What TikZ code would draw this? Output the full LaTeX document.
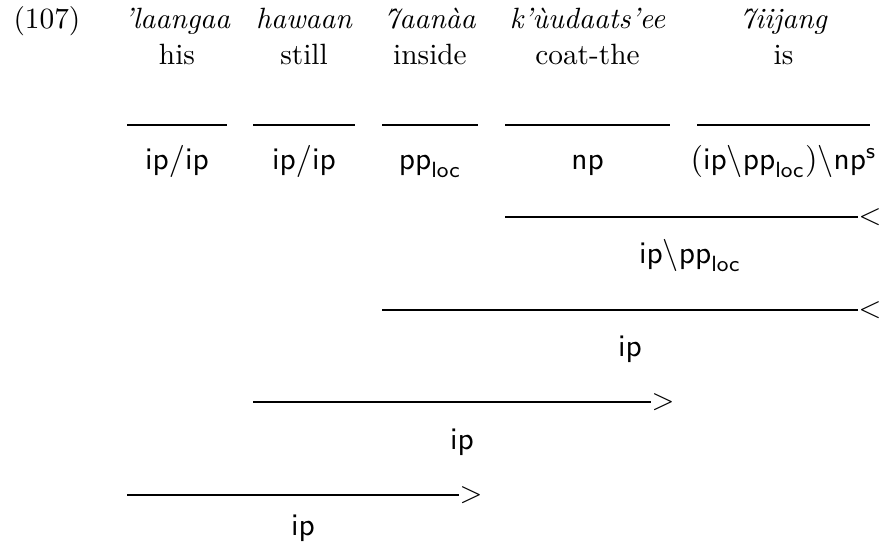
\documentclass[tikz,border=0pt]{standalone}
\usepackage{amsmath}
\usepackage{fontspec}
\newcommand\sy[1]{\textsf{#1}}
\begin{document}
\begin{tikzpicture}[x=0.3409pt,y=-0.3409pt,
  word/.style={font=\itshape, anchor=base, inner sep=0pt},
  gloss/.style={anchor=base, inner sep=0pt},
  cat/.style={font=\fontsize{10.7pt}{13pt}\selectfont, anchor=base, inner sep=0pt},
  rulebar/.style={line width=0.4pt},
  dirmark/.style={anchor=west, inner sep=0pt}]
\useasboundingbox (0,0) rectangle (880,548);

% example number
\node[gloss, anchor=base west] (num) at (13,29) {(107)};

% object-language words
\node[word] (w1) at (177,29) {'laangaa};
\node[word] (w2) at (304,29) {hawaan};
\node[word] (w3) at (430,29) {7aan\`aa};
\node[word] (w4) at (587.5,29) {k'\`uudaats'ee};
\node[word] (w5) at (783.5,29) {7iijang};

% glosses
\node[gloss] (g1) at (177,65) {his};
\node[gloss] (g2) at (304,65) {still};
\node[gloss] (g3) at (430,65) {inside};
\node[gloss] (g4) at (587.5,65) {coat-the};
\node[gloss] (g5) at (783.5,65) {is};

% lexical rules
\coordinate (a1) at (127,125); \coordinate (b1) at (227,125);
\coordinate (a2) at (253,125); \coordinate (b2) at (355,125);
\coordinate (a3) at (382,125); \coordinate (b3) at (478,125);
\coordinate (a4) at (505,125); \coordinate (b4) at (670,125);
\coordinate (a5) at (697,125); \coordinate (b5) at (870,125);
\foreach \i in {1,...,5} \draw[rulebar] (a\i) -- (b\i);

% lexical categories
\node[cat] (c1) at (177,170) {$\sy{ip}/\sy{ip}$};
\node[cat] (c2) at (304,170) {$\sy{ip}/\sy{ip}$};
\node[cat] (c3) at (430,170) {$\sy{pp}_{\sy{loc}}$};
\node[cat] (c4) at (587.5,170) {$\sy{np}$};
\node[cat] (c5) at (783.5,170) {$(\sy{ip}\backslash\sy{pp}_{\sy{loc}})\backslash\sy{np}^{\sy{s}}$};

% backward application: is + coat-the
\coordinate (r1a) at (505,217); \coordinate (r1b) at (858,217);
\draw[rulebar] (r1a) -- (r1b);
\node[dirmark] (m1) at (r1b) {$<$};
\node[cat] (d1) at (690,264) {$\sy{ip}\backslash\sy{pp}_{\sy{loc}}$};

% backward application: inside
\coordinate (r2a) at (382,310); \coordinate (r2b) at (858,310);
\draw[rulebar] (r2a) -- (r2b);
\node[dirmark] (m2) at (r2b) {$<$};
\node[cat] (d2) at (630,357) {$\sy{ip}$};

% forward application: still
\coordinate (r3a) at (253,402); \coordinate (r3b) at (651,402);
\draw[rulebar] (r3a) -- (r3b);
\node[dirmark] (m3) at (r3b) {$>$};
\node[cat] (d3) at (462,450) {$\sy{ip}$};

% forward application: his
\coordinate (r4a) at (127,495); \coordinate (r4b) at (459,495);
\draw[rulebar] (r4a) -- (r4b);
\node[dirmark] (m4) at (r4b) {$>$};
\node[cat] (d4) at (303,536) {$\sy{ip}$};
\end{tikzpicture}
\end{document}
